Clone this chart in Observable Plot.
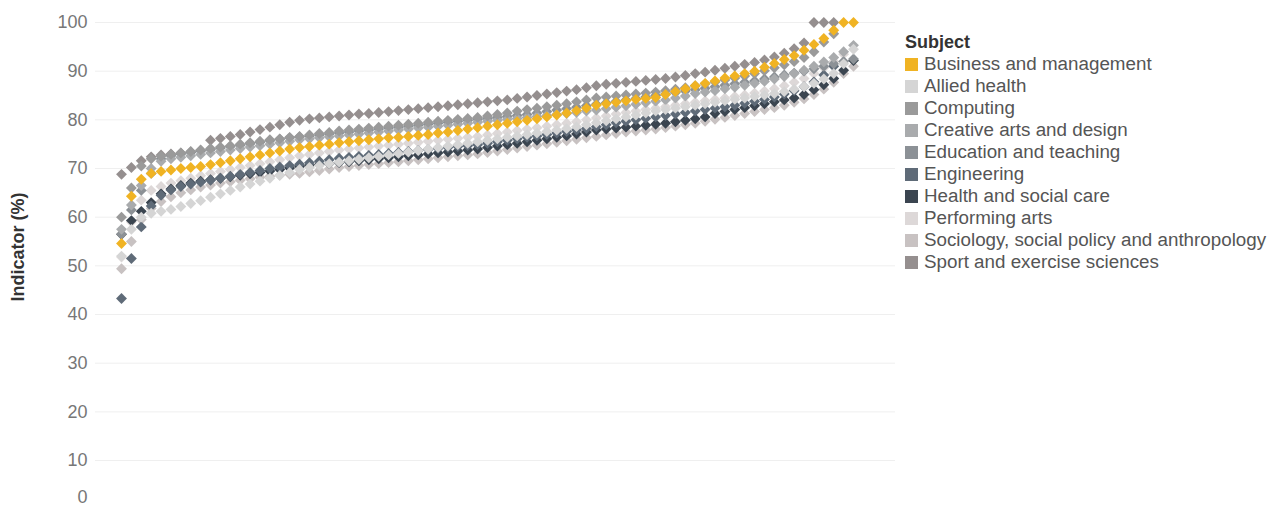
<!DOCTYPE html>
<html><head><meta charset="utf-8">
<script src="https://cdn.jsdelivr.net/npm/d3@7"></script>
<script src="https://cdn.jsdelivr.net/npm/@observablehq/plot@0.6"></script>
<style>
body{margin:0;background:#fff;font-family:Arial,"Liberation Sans",sans-serif;}
#wrap{position:relative;width:1277px;height:507px;overflow:hidden;}
#chart{position:absolute;left:0;top:0;}
#ylabel{position:absolute;left:18px;top:247px;transform:translate(-50%,-50%) rotate(-90deg);font-weight:bold;font-size:18px;color:#333;white-space:nowrap;}
#legend{position:absolute;left:905px;top:31px;}
.lt{font-weight:bold;font-size:18px;color:#333;height:22px;line-height:22px;}
.li{display:flex;align-items:center;height:22px;font-size:18.8px;color:#555;white-space:nowrap;}
.sw{width:13px;height:13px;margin-right:6px;flex:none;}
</style></head><body>
<div id="wrap"><div id="chart"></div><div id="ylabel">Indicator (%)</div><div id="legend"></div></div>
<script>
const subjects = ["Business and management","Allied health","Computing","Creative arts and design","Education and teaching","Engineering","Health and social care","Performing arts","Sociology, social policy and anthropology","Sport and exercise sciences"];
const colors = ["#f0b323","#d5d5d5","#9a9a9a","#a9abad","#8c9196","#5f6b78","#3b4550","#ddd8d8","#c8c2c2","#958f8f"];
const yTicks = [10,20,30,40,50,60,70,80,90,100];

const business = [54.6,64.3,67.8,69,69.4,69.7,70,70.2,70.4,70.8,71.2,71.6,72,72.4,72.8,73.2,73.6,74,74.3,74.5,74.8,75,75.3,75.5,75.7,75.9,76.1,76.3,76.4,76.6,76.8,77,77.3,77.5,77.8,78.1,78.4,78.7,79,79.3,79.6,79.9,80.2,80.6,81,81.4,81.9,82.4,83,83.3,83.6,83.9,84.2,84.4,84.6,85.2,85.8,86.4,87,87.5,88,88.6,89,89.5,90,90.8,91.6,92.4,93.2,94.3,95.5,96.7,98.4,100,100];
const alliedHealth = [52,57.5,60,60.8,61.2,61.6,62.2,62.8,63.4,64.1,64.8,65.5,66.2,66.8,67.4,68,68.6,69.2,69.8,70.2,70.6,71,71.3,71.6,71.9,72.2,72.5,72.8,73.1,73.4,73.7,74,74.3,74.6,74.9,75.2,75.5,75.8,76.1,76.4,76.7,77,77.3,77.6,77.9,78.2,78.6,79,79.4,79.8,80.2,80.6,81,81.4,81.8,82.1,82.4,82.7,83,83.3,83.6,83.9,84.2,84.5,84.8,85.1,85.4,85.8,86.3,86.8,87.5,88.4,89.5,91.5,94.5];
const computing = [60,66,70.5,72,72.5,72.9,73.2,73.5,73.8,74.1,74.4,74.7,75,75.3,75.6,75.9,76.1,76.4,76.6,76.9,77.2,77.4,77.7,77.9,78.1,78.3,78.5,78.7,78.9,79.1,79.3,79.5,79.7,79.9,80.1,80.3,80.5,80.8,81.1,81.4,81.8,82.1,82.4,82.7,83,83.3,83.7,84.1,84.5,84.7,84.9,85.1,85.3,85.5,85.7,86,86.3,86.6,87,87.4,87.8,88.2,88.6,89,89.5,90.1,90.7,91.3,92,92.8,94,96,97.7];
const creativeArts = [57.5,62.5,66.5,70,71.5,72,72.3,72.6,72.9,73.2,73.5,73.8,74.1,74.4,74.7,75,75.3,75.6,75.9,76.1,76.3,76.5,76.7,76.9,77.1,77.3,77.5,77.7,77.9,78.1,78.3,78.5,78.7,78.9,79.1,79.3,79.5,79.7,79.9,80.1,80.3,80.5,80.7,80.9,81.1,81.3,81.5,81.8,82,82.3,82.6,82.9,83.2,83.5,83.8,84.1,84.5,84.9,85.4,85.7,86,86.4,86.7,87.1,87.5,87.9,88.4,88.9,89.5,90.2,91,91.9,92.8,94,95.3];
const education = [56.5,61.5,65.5,69,72,72.6,73,73.3,73.6,73.9,74.2,74.5,74.8,75.1,75.4,75.7,76,76.3,76.5,76.7,76.9,77.1,77.3,77.5,77.7,77.9,78.1,78.3,78.5,78.7,78.9,79.1,79.3,79.5,79.7,79.9,80.1,80.3,80.5,80.7,80.9,81.1,81.4,81.7,82,82.3,82.6,82.9,83.2,83.5,83.8,84.1,84.4,84.7,85,85.3,85.6,85.9,86.2,86.5,86.8,87.1,87.4,87.7,88,88.4,88.8,89.2,89.6,90,90.5,91,91.5,92,92.5];
const engineering = [43.3,51.5,58,62.3,64.5,65.6,66.3,66.8,67.2,67.6,68,68.4,68.8,69.2,69.6,70,70.3,70.6,70.9,71.2,71.5,71.8,72.1,72.3,72.5,72.7,72.9,73.1,73.3,73.5,73.7,73.9,74.1,74.3,74.5,74.7,74.9,75.2,75.5,75.8,76.1,76.4,76.7,77,77.3,77.6,77.9,78.2,78.6,79,79.4,79.7,80,80.3,80.6,80.9,81.2,81.5,81.8,82.1,82.4,82.7,83,83.4,83.8,84.2,84.7,85.3,86,86.8,87.8,89.2,91];
const healthSocialCare = [56.5,59.3,61.2,63,64.8,65.8,66.5,67,67.4,67.7,68,68.3,68.6,68.9,69.2,69.5,69.8,70.1,70.4,70.6,70.8,71,71.2,71.4,71.6,71.8,72,72.2,72.4,72.6,72.8,73,73.2,73.4,73.6,73.8,74,74.3,74.6,74.9,75.2,75.5,75.8,76.1,76.4,76.7,77.1,77.5,77.9,78.1,78.3,78.5,78.7,78.9,79.1,79.3,79.6,79.9,80.2,80.6,81.3,81.7,82.1,82.5,82.9,83.3,83.7,84.1,84.5,85.2,86.2,87.2,88.5,90.2,92.2];
const performingArts = [51.8,59,63.5,65.5,66.3,67,67.5,68,68.5,69,69.4,69.8,70.2,70.6,71,71.4,71.8,72.2,72.6,72.9,73.2,73.5,73.8,74,74.2,74.4,74.6,74.8,75,75.2,75.4,75.6,75.8,76,76.2,76.4,76.6,76.9,77.2,77.5,77.8,78.1,78.4,78.7,79,79.3,79.6,80,80.4,80.8,81.2,81.5,81.8,82.1,82.4,82.7,83,83.3,83.6,83.9,84.2,84.5,84.8,85.1,85.5,85.9,86.4,87,87.7,88.5,89.5,90.7,92,93.5];
const sociology = [49.4,55,59.5,61.8,63.2,64.2,65,65.6,66.2,66.6,67,67.3,67.6,67.9,68.2,68.4,68.6,68.8,69,69.3,69.6,69.9,70.2,70.4,70.6,70.8,71,71.2,71.4,71.6,71.8,72,72.2,72.4,72.6,72.8,73,73.3,73.6,73.9,74.2,74.5,74.8,75.1,75.4,75.7,76,76.3,76.6,76.9,77.2,77.5,77.7,77.9,78.1,78.4,78.7,79,79.3,79.7,80.1,80.5,80.9,81.3,81.7,82.1,82.5,83,83.6,84.3,85.2,86.3,87.7,89.5,91];
const sport = [68.8,70.2,71.6,72.4,72.8,73,73.2,73.4,73.7,75.8,76.2,76.6,77,77.5,78,78.5,79,79.5,79.9,80.2,80.4,80.6,80.8,81,81.2,81.3,81.5,81.7,81.9,82.1,82.3,82.5,82.7,82.9,83.1,83.3,83.5,83.7,83.9,84.1,84.4,84.7,85,85.3,85.6,85.9,86.2,86.6,87,87.3,87.5,87.7,87.9,88.1,88.3,88.5,88.8,89.1,89.5,89.8,90.2,90.6,91,91.4,91.8,92.3,92.9,93.7,94.6,95.8,100,100,100];

const seriesValues = [business,alliedHealth,computing,creativeArts,education,engineering,healthSocialCare,performingArts,sociology,sport];

// rows, drawn in reverse legend order so Business sits on top
const rows = [];
for (let s = subjects.length - 1; s >= 0; s--) {
  seriesValues[s].forEach((v, i) => rows.push({subject: subjects[s], rank: i, value: v}));
}

const chart = Plot.plot({
  width: 895,
  height: 507,
  marginLeft: 95,
  marginRight: 0,
  marginTop: 22,
  marginBottom: 0,
  style: {fontFamily: 'Arial, "Liberation Sans", sans-serif', background: "transparent", overflow: "visible"},
  x: {domain: [0, 74], range: [121, 853], axis: null},
  y: {domain: [0, 100], range: [508.7, 22]},
  color: {domain: subjects, range: colors},
  marks: [
    Plot.gridY(yTicks, {stroke: "#efefef", strokeOpacity: 1}),
    Plot.axisY(yTicks, {tickSize: 0, tickPadding: 8, fontSize: 18, fill: "#777", label: null}),
    Plot.axisY([0], {tickSize: 0, tickPadding: 8, fontSize: 18, fill: "#777", label: null, dy: -12}),
    Plot.dot(rows, {x: "rank", y: "value", fill: "subject", symbol: "diamond2", r: 4.9, stroke: "none"})
  ]
});
document.getElementById("chart").appendChild(chart);

const leg = document.getElementById("legend");
const t = document.createElement("div");
t.className = "lt"; t.textContent = "Subject"; leg.appendChild(t);
subjects.forEach((s, i) => {
  const row = document.createElement("div"); row.className = "li";
  const sw = document.createElement("span"); sw.className = "sw"; sw.style.background = colors[i];
  const tx = document.createElement("span"); tx.textContent = s;
  row.appendChild(sw); row.appendChild(tx); leg.appendChild(row);
});
</script>
</body></html>
